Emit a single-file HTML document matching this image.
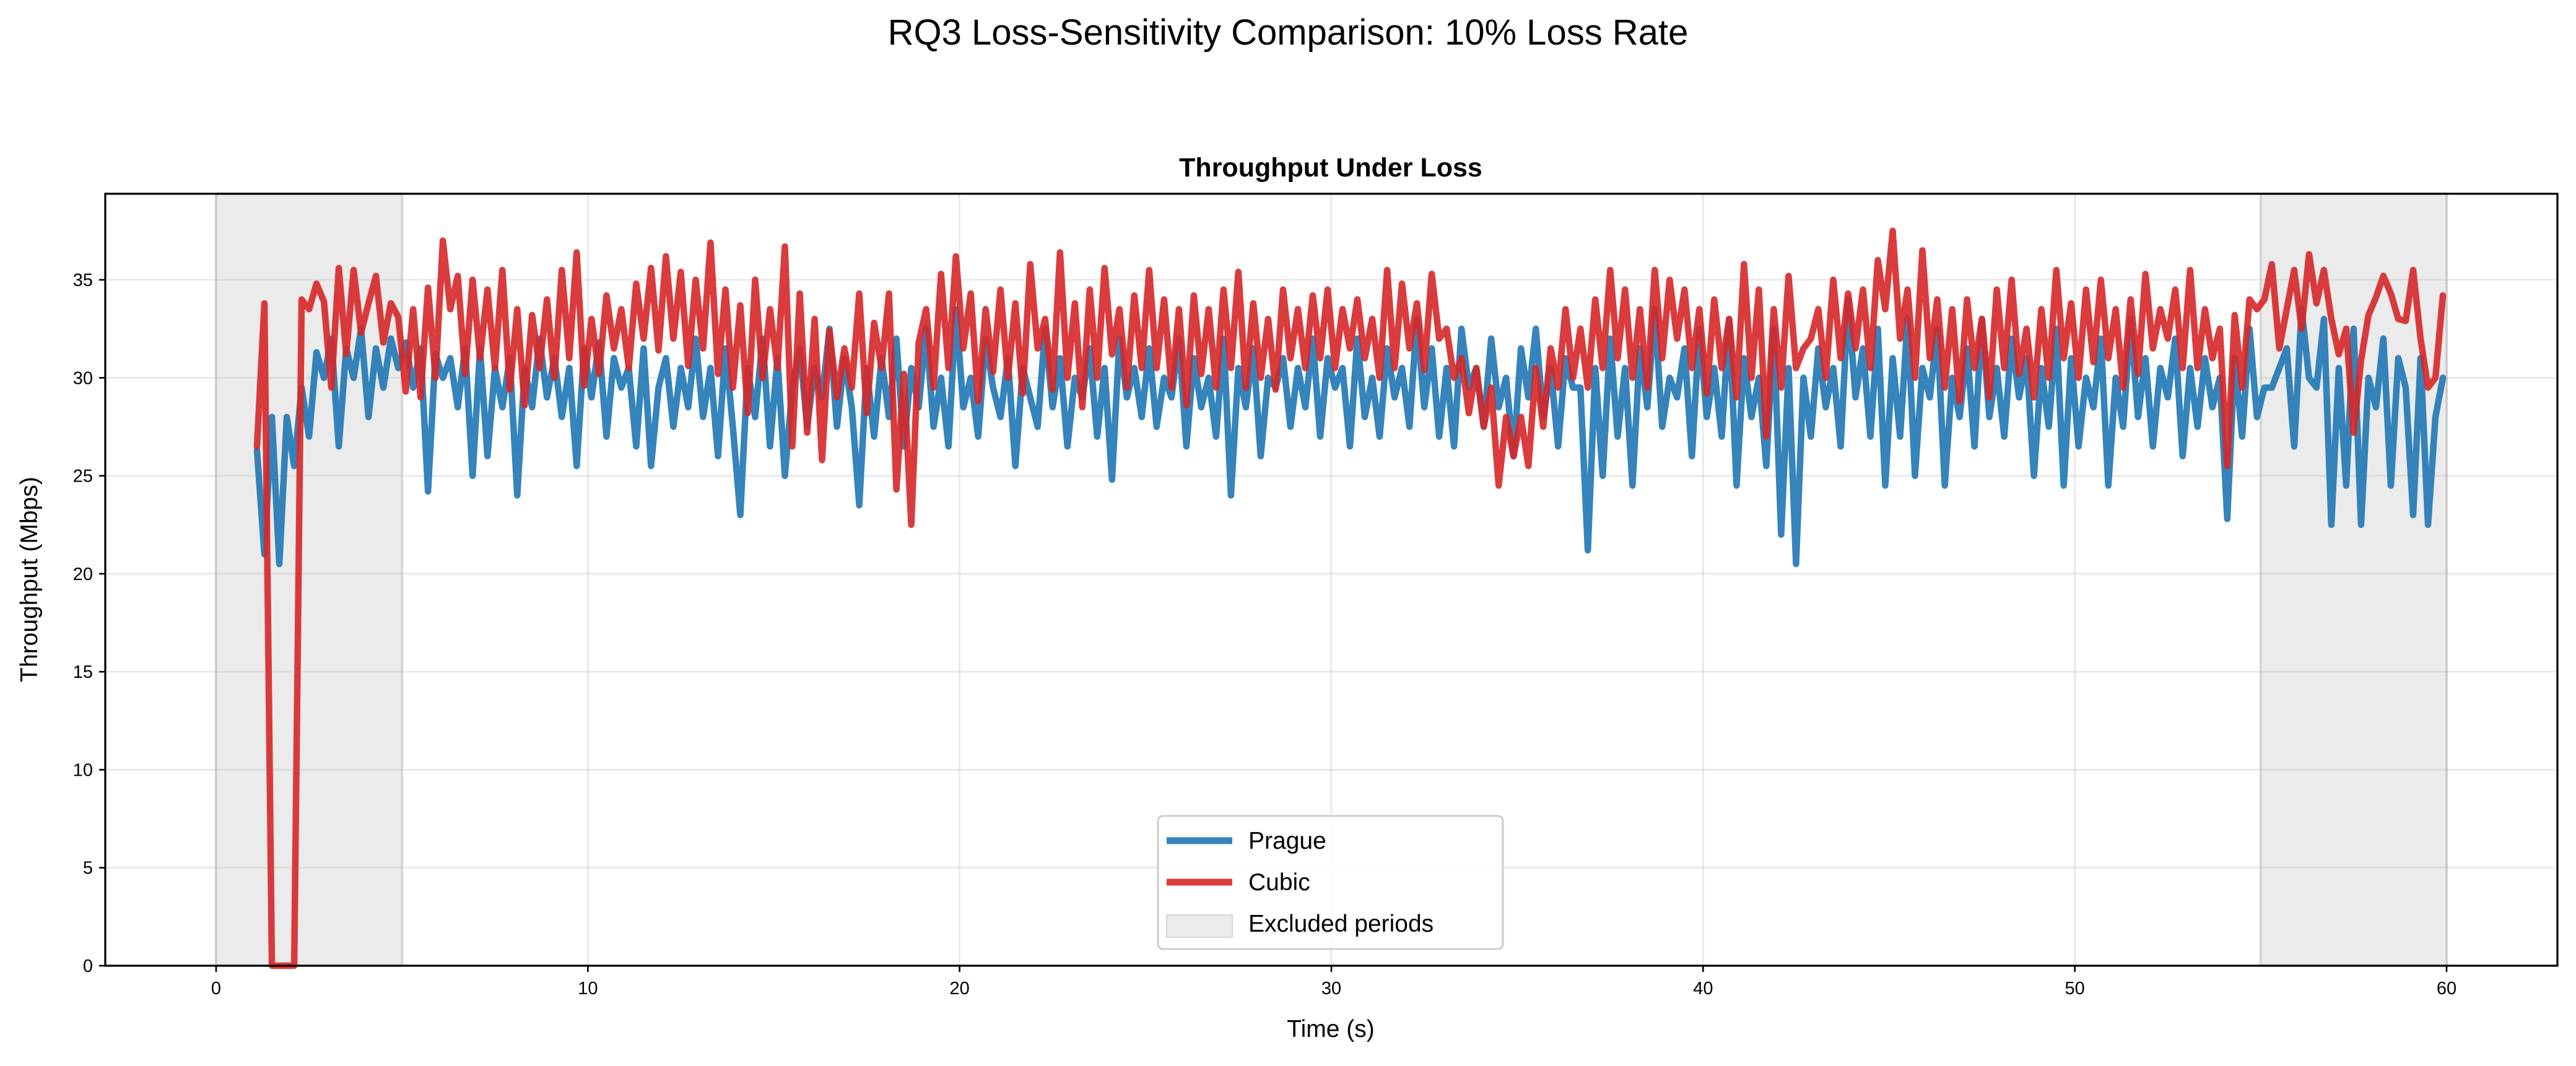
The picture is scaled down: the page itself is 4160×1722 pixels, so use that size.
<!DOCTYPE html>
<html><head><meta charset="utf-8"><style>
html,body{margin:0;padding:0;background:#fff;}
svg text{font-family:"Liberation Sans","DejaVu Sans",sans-serif;}
</style></head><body>
<svg id="chart" xmlns="http://www.w3.org/2000/svg" width="4160" height="1717" viewBox="0 0 4160 1717">
<rect width="4160" height="1717" fill="#fff"/>
<text x="2080" y="72" font-size="58" text-anchor="middle" fill="#000">RQ3 Loss-Sensitivity Comparison: 10% Loss Rate</text>
<text x="2149" y="285" font-size="43" font-weight="bold" text-anchor="middle" fill="#000">Throughput Under Loss</text>
<g id="bands"></g>
<g id="grid"></g>
<g id="series"></g>
<g id="axes"></g>
<text x="2149" y="1675" font-size="39" text-anchor="middle">Time (s)</text>
<text transform="translate(60,936) rotate(-90)" font-size="39" text-anchor="middle">Throughput (Mbps)</text>
<g id="legend">
<rect x="1870" y="1318" width="557" height="215" rx="8" fill="#fff" fill-opacity="0.85" stroke="#cccccc" stroke-width="3"/>
<line x1="1884" y1="1358" x2="1990" y2="1358" stroke="#1f77b4" stroke-opacity="0.9" stroke-width="11"/>
<text x="2016" y="1371" font-size="39">Prague</text>
<line x1="1884" y1="1425" x2="1990" y2="1425" stroke="#d62728" stroke-opacity="0.9" stroke-width="11"/>
<text x="2016" y="1438" font-size="39">Cubic</text>
<rect x="1884" y="1478" width="106" height="36" fill="#ebebeb" stroke="#d4d4d4" stroke-width="2"/>
<text x="2016" y="1505" font-size="39">Excluded periods</text>
</g>
</svg>
<script>
const startTime = 1.1;
const timeStep = 0.2;
const xTicks = [0,10,20,30,40,50,60];
const yTicks = [0,5,10,15,20,25,30,35];
const excludedPeriods = [[0,5],[55,60]];
const cubic = [
26.5,33.8,0,0,0,0,34,33.5,34.8,33.9,
29.5,35.6,31.2,35.5,32.3,33.8,35.2,31.8,33.8,33.1,
29.3,33.5,29,34.6,30,37,33.5,35.2,30.2,35,
31,34.5,30.5,35.5,29.4,33.5,28.6,33.2,30.5,34,
30,35.5,31,36.4,29.6,33,30.2,34.2,31.5,33.5,
30.5,34.8,32,35.6,31.4,36.2,32,35.4,30.6,35,
31.5,36.9,30.2,34.5,29.5,33.7,28.2,35,30,33.5,
30.5,36.7,26.5,34.3,27.2,33,25.8,32.4,29,31.5,
29.5,34.3,28.2,32.8,30.5,34.3,24.3,30.2,22.5,31.8,
33.5,29.5,35.3,30.5,36.2,31.5,34.3,28.8,33.5,30.3,
34.5,30,33.8,29.2,35.8,31.5,33,29.4,36.4,30,
33.8,28.5,34.5,30,35.6,31.2,33.5,29.5,34.2,30.5,
35.5,30.5,34,29.5,33.5,28.6,34.2,30.2,33.5,29.5,
34.5,30.5,35.4,29.5,33.8,30,33,29.4,34.5,31,
33.5,30.5,34.2,31,34.5,30.5,33.5,31.5,34,31,
33,30,35.5,30.5,34.8,31.5,33.8,30.4,35.3,32,
32.5,30,31,28.2,30.5,27.5,29.5,24.5,28,26,
28,25.5,30.5,27.5,31.5,29.5,33.5,30,32.5,29.5,
34,30.5,35.5,31,34.5,30,33.5,29.5,35.5,31,
35,32,34.5,30.5,33.5,29.2,34,30.5,33,29,
35.8,30,34.5,27,33.5,29.5,35.2,30.5,31.5,32,
33.5,30,35,31,34.3,31.5,34.5,30.5,36,33.5,
37.5,32,34.5,30,36.5,31,34,29.5,33.5,28.8,
34,30.5,33,29,34.5,30.5,35,30.2,32.5,29,
33.5,30,35.5,31,33.8,30,34.5,30.8,35,31,
33.5,29.5,34,30.2,35.3,31.5,33.5,32,34.5,30.5,
35.5,30.5,33.5,31,32.5,25.5,33.2,29.5,34,33.5,
34,35.8,31.5,33.5,35.5,32.5,36.3,33.8,35.5,33,
31.2,32.5,27.2,30.9,33.2,34.1,35.2,34.3,33,32.9,
35.5,32,29.5,30,34.2];
const prague = [
26.3,21,28,20.5,28,25.5,29.5,27,31.3,30,
32,26.5,31.5,30,32.5,28,31.5,29.5,32,30.5,
31.8,29.5,31.5,24.2,31.2,30,31,28.5,31.5,25,
31.5,26,30.5,28.5,31,24,30.5,28.5,32,29,
31,28,30.5,25.5,31.5,29,31.8,27,31,29.5,
30.5,26.5,31.5,25.5,29.5,31,27.5,30.5,28.5,32,
28,30.5,26,31.5,27.5,23,30.5,28,32,26.5,
31,25,29.5,31.5,27.5,30.5,29,32.5,27.5,31,
28.5,23.5,30.5,27,31,28,32,26.5,30.5,28.5,
32.5,27.5,30,26.5,33.5,28.5,30,27,32,29.5,
28,31,25.5,30.5,29,27.5,32.5,28.5,31,26.5,
30,29,31.5,27,30.5,24.8,32,29,30.5,28,
31.5,27.5,30,29,32,26.5,31,28.5,30,27,
32,24,30.5,28.5,31.5,26,30,29.5,31,27.5,
30.5,28.5,32,27,31,29.5,30.5,26.5,32,28,
30,27,31.5,29,30.5,27.5,33,28.5,31.5,27,
30.5,26.5,32.5,29.5,30.5,27.5,32,28.5,30,26,
31.5,29,32.5,28,30.5,26.5,31,29.5,29.5,21.2,
30.5,25,32,27,30.5,24.5,31.5,28.5,33.5,27.5,
30,29,31.5,26,32.5,28,30.5,27,33,24.5,
31,28,30,25.5,32.5,22,30.5,20.5,30,27,
31.5,28.5,30.5,26.5,34,29,31.5,27,32.5,24.5,
31,27,33,25,30.5,29,32.5,24.5,30,28,
31.5,26.5,33,28,30.5,27,32,29,31,25,
30.5,27.5,32.5,24.5,31,26.5,30,28.5,32,24.5,
30,27.5,33,28,31,26.5,30.5,29,32,26,
30.5,27.5,31,28.5,30,22.8,31,27,32.5,28,
29.5,29.5,30.5,31.5,26.5,33.5,30,29.5,33,22.5,
30.5,24.5,32.5,22.5,30,28.5,32,24.5,31,29.5,
23,31,22.5,28,30];

const NS = "http://www.w3.org/2000/svg";
const L = 170, R = 4130, T = 313, B = 1560;
const X0 = 349, X60 = 3951;
function xs(v){ return X0 + (X60 - X0) * v / 60; }
function ys(v){ return B - (B - 452) * v / 35; }
function mk(tag, attrs, parent){
  const e = document.createElementNS(NS, tag);
  for (const k in attrs) e.setAttribute(k, attrs[k]);
  parent.appendChild(e);
  return e;
}
const bands = document.getElementById('bands');
excludedPeriods.forEach((p, i) => {
  const r = mk('rect', {x: xs(p[0]), y: T, width: xs(p[1]) - xs(p[0]), height: B - T, fill: '#ebebeb', stroke: '#d6d6d6', 'stroke-width': 4}, bands);
  
  
});
const grid = document.getElementById('grid');
xTicks.forEach(v => {
  const g = mk('line', {x1: xs(v), x2: xs(v), y1: T, y2: B, stroke: '#b0b0b0', 'stroke-opacity': 0.3, 'stroke-width': 2.6}, grid);
  
  
});
yTicks.forEach(v => {
  const g = mk('line', {x1: L, x2: R, y1: ys(v), y2: ys(v), stroke: '#b0b0b0', 'stroke-opacity': 0.3, 'stroke-width': 2.6}, grid);
  
  
});
const series = document.getElementById('series');
function pts(arr){ return arr.map((v, i) => xs(startTime + i * timeStep).toFixed(1) + ',' + ys(v).toFixed(1)).join(' '); }
const pl = mk('polyline', {points: pts(prague), fill: 'none', stroke: '#1f77b4', 'stroke-opacity': 0.9, 'stroke-width': 10.5, 'stroke-linejoin': 'round', 'stroke-linecap': 'round'}, series);


const cl = mk('polyline', {points: pts(cubic), fill: 'none', stroke: '#d62728', 'stroke-opacity': 0.9, 'stroke-width': 10.5, 'stroke-linejoin': 'round', 'stroke-linecap': 'round'}, series);


const axes = document.getElementById('axes');
const frame = mk('rect', {x: L, y: T, width: R - L, height: B - T, fill: 'none', stroke: '#000', 'stroke-width': 3.2}, axes);


xTicks.forEach(v => {
  const t = mk('line', {x1: xs(v), x2: xs(v), y1: B, y2: B + 10, stroke: '#000', 'stroke-width': 2.6}, axes);
  
  
  const lb = mk('text', {x: xs(v), y: B + 46, 'font-size': 29, 'text-anchor': 'middle'}, axes);
  lb.textContent = v;
  
  
});
yTicks.forEach(v => {
  const t = mk('line', {x1: L - 10, x2: L, y1: ys(v), y2: ys(v), stroke: '#000', 'stroke-width': 2.6}, axes);
  
  
  const lb = mk('text', {x: L - 20, y: ys(v) + 10, 'font-size': 29, 'text-anchor': 'end'}, axes);
  lb.textContent = v;
  
  
});
</script>
</body></html>
